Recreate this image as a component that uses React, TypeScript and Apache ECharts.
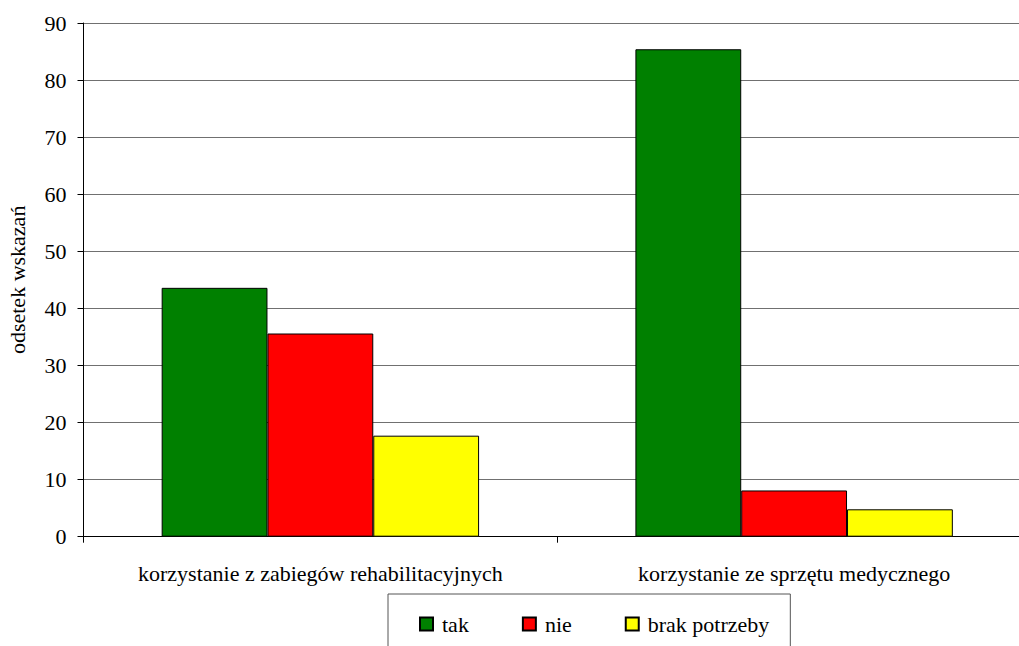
import React, { useEffect, useRef } from "react";
import * as echarts from "echarts";

const categories = [
  "korzystanie z zabiegów rehabilitacyjnych",
  "korzystanie ze sprzętu medycznego",
];
const takValues = [43.6, 85.4];
const nieValues = [35.6, 8.1];
const brakValues = [17.7, 4.8];
const seriesNames = ["tak", "nie", "brak potrzeby"];
const seriesColors = ["#008000", "#FF0000", "#FFFF00"];
const yTicks = { min: 0, max: 90, interval: 10 };

const FONT = "Liberation Serif";
const FONT_SIZE = 22;

export default function App() {
  const ref = useRef<HTMLDivElement>(null);

  useEffect(() => {
    if (!ref.current) return;
    document.body.style.overflow = "hidden";
    const chart = echarts.init(ref.current, undefined, { renderer: "svg" });
    const data = [takValues, nieValues, brakValues];
    const text = { fontFamily: FONT, fontSize: FONT_SIZE, color: "#000" };
    chart.setOption({
      animation: false,
      backgroundColor: "#ffffff",
      textStyle: { fontFamily: FONT, color: "#000" },
      // the plot runs a little past the right edge of the visible page
      grid: {
        left: 83.5,
        top: 23,
        bottom: 109.3,
        right: 0,
        containLabel: false,
        outerBoundsMode: "none",
      },
      legend: {
        top: 594,
        left: 388,
        orient: "horizontal",
        icon: "rect",
        itemWidth: 13,
        itemHeight: 13,
        itemGap: 53,
        padding: [19, 21, 44, 31],
        borderColor: "#555",
        borderWidth: 1,
        textStyle: { ...text, padding: [0, 0, 0, 4] },
        data: seriesNames,
      },
      xAxis: {
        type: "category",
        data: categories,
        axisLine: { lineStyle: { color: "#000", width: 1 } },
        axisTick: { show: true, length: 6, lineStyle: { color: "#000" } },
        axisLabel: { ...text, margin: 26, interval: 0, hideOverlap: false },
      },
      yAxis: {
        type: "value",
        ...yTicks,
        name: "odsetek wskazań",
        nameLocation: "middle",
        nameGap: 55,
        nameRotate: 90,
        nameTextStyle: text,
        axisLine: { show: true, lineStyle: { color: "#000", width: 1 } },
        axisTick: { show: true, length: 6, lineStyle: { color: "#000" } },
        axisLabel: { ...text, margin: 17 },
        splitLine: { show: true, lineStyle: { color: "#707070", width: 1 } },
      },
      series: seriesNames.map((name, i) => ({
        name,
        type: "bar",
        data: data[i],
        barGap: "0%",
        barCategoryGap: "33%",
        itemStyle: { color: seriesColors[i], borderColor: "#000", borderWidth: 1 },
      })),
    });
    return () => chart.dispose();
  }, []);

  return (
    <div
      ref={ref}
      style={{ position: "fixed", left: 0, top: 0, width: 1031, height: 646 }}
    />
  );
}
